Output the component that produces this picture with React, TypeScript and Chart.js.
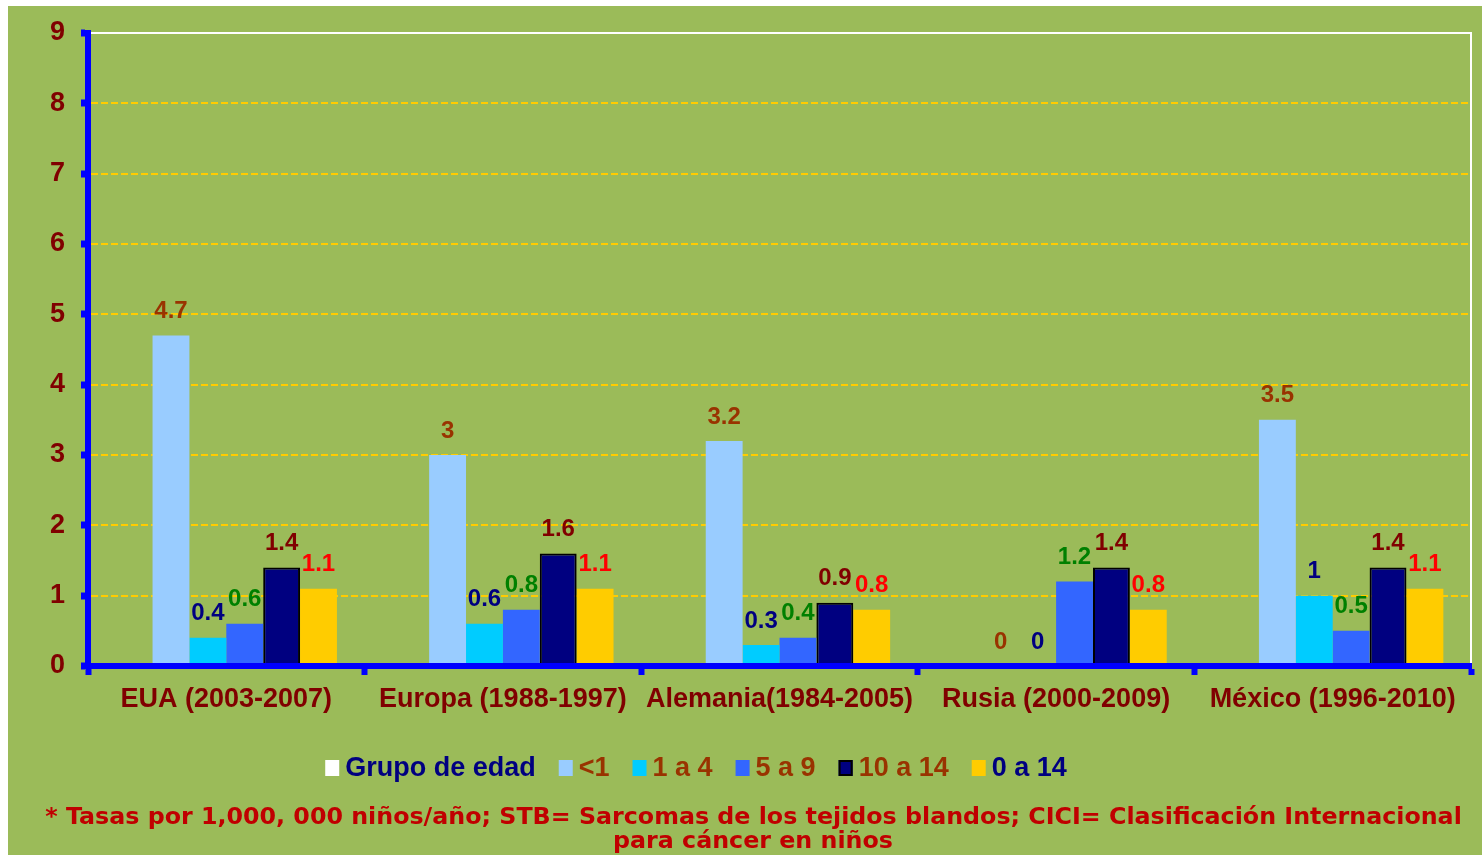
import React, { useEffect, useRef } from "react";
import { Chart, registerables } from "chart.js";

Chart.register(...registerables);

const categories = [
  "EUA (2003-2007)",
  "Europa (1988-1997)",
  "Alemania(1984-2005)",
  "Rusia (2000-2009)",
  "México (1996-2010)",
];
const seriesNames = ["Grupo de edad", "<1", "1 a 4", "5 a 9", "10 a 14", "0 a 14"];
const grupo: (number | null)[] = [null, null, null, null, null];
const menor1 = [4.7, 3, 3.2, 0, 3.5];
const de1a4 = [0.4, 0.6, 0.3, 0, 1];
const de5a9 = [0.6, 0.8, 0.4, 1.2, 0.5];
const de10a14 = [1.4, 1.6, 0.9, 1.4, 1.4];
const de0a14 = [1.1, 1.1, 0.8, 0.8, 1.1];
const yTicks = [0, 1, 2, 3, 4, 5, 6, 7, 8, 9];
const footnote1 =
  "* Tasas por 1,000, 000 niños/año; STB= Sarcomas de los tejidos blandos; CICI= Clasificación Internacional";
const footnote2 = "para cáncer en niños";

const barColors = ["#FFFFFF", "#99CCFF", "#00CCFF", "#3366FF", "#000080", "#FFCC00"];
const labelColors = ["#000080", "#993300", "#000080", "#008000", "#800000", "#FF0000"];
const legendTextColors = ["#000080", "#993300", "#993300", "#993300", "#993300", "#000080"];

const SANS = '"Liberation Sans", Arial, sans-serif';

export default function App() {
  const ref = useRef<HTMLCanvasElement | null>(null);

  useEffect(() => {
    const canvas = ref.current;
    if (!canvas) return;
    const allData = [grupo, menor1, de1a4, de5a9, de10a14, de0a14];

    const customPlugin = {
      id: "custom",
      beforeDraw(chart: any) {
        const ctx = chart.ctx;
        ctx.save();
        ctx.fillStyle = "#9BBB59";
        ctx.fillRect(0, 0, chart.width, chart.height);
        ctx.restore();
      },
      beforeDatasetsDraw(chart: any) {
        const ctx = chart.ctx;
        const a = chart.chartArea;
        ctx.save();
        ctx.strokeStyle = "#FFFFFF";
        ctx.lineWidth = 2;
        ctx.beginPath();
        ctx.moveTo(a.left, a.top);
        ctx.lineTo(a.right, a.top);
        ctx.lineTo(a.right, a.bottom);
        ctx.stroke();
        ctx.restore();
      },
      afterDatasetsDraw(chart: any) {
        const ctx = chart.ctx;
        ctx.save();
        ctx.font = `bold 24px ${SANS}`;
        ctx.textAlign = "center";
        ctx.textBaseline = "middle";
        for (let i = 1; i < allData.length; i++) {
          const meta = chart.getDatasetMeta(i);
          ctx.fillStyle = labelColors[i];
          meta.data.forEach((bar: any, j: number) => {
            const v = allData[i][j];
            if (v === null || v === undefined) return;
            ctx.fillText(String(v), bar.x, bar.y - 24);
          });
        }
        ctx.restore();
      },
      afterDraw(chart: any) {
        const ctx = chart.ctx;
        ctx.save();
        // legend
        ctx.font = `bold 27px ${SANS}`;
        ctx.textBaseline = "middle";
        ctx.textAlign = "left";
        const boxW = 14;
        const boxH = 16;
        const gapBox = 6;
        const gapItem = 23;
        const widths = seriesNames.map((n) => ctx.measureText(n).width);
        let total = 0;
        widths.forEach((w, i) => {
          total += boxW + gapBox + w + (i < widths.length - 1 ? gapItem : 0);
        });
        let x = 688 - total / 2;
        const ly = 762;
        seriesNames.forEach((n, i) => {
          ctx.fillStyle = barColors[i];
          ctx.fillRect(x, ly - boxH / 2, boxW, boxH);
          if (i === 4) {
            ctx.strokeStyle = "#000000";
            ctx.lineWidth = 2;
            ctx.strokeRect(x + 1, ly - boxH / 2 + 1, boxW - 2, boxH - 2);
          }
          ctx.fillStyle = legendTextColors[i];
          ctx.fillText(n, x + boxW + gapBox, ly + 1);
          x += boxW + gapBox + widths[i] + gapItem;
        });
        // footnote
        ctx.font = `bold 100px "DejaVu Sans", Verdana, sans-serif`;
        const w1 = ctx.measureText(footnote1).width;
        const fs = (100 * 1417) / w1;
        ctx.font = `bold ${fs}px "DejaVu Sans", Verdana, sans-serif`;
        ctx.fillStyle = "#C00000";
        ctx.textAlign = "center";
        ctx.fillText(footnote1, 745.5, 812);
        ctx.fillText(footnote2, 745, 836);
        ctx.restore();
      },
    };

    const chart = new Chart(canvas, {
      type: "bar",
      data: {
        labels: categories,
        datasets: seriesNames.map((name, i) => ({
          label: name,
          data: allData[i] as any,
          backgroundColor: barColors[i],
          borderColor: i === 4 ? "#000000" : barColors[i],
          borderWidth: i === 4 ? 2 : 0,
          categoryPercentage: 0.8,
          barPercentage: 1.0,
        })),
      },
      options: {
        responsive: false,
        animation: false,
        events: [],
        layout: { padding: { top: 27, right: 11, left: 0, bottom: 0 } },
        plugins: {
          legend: { display: false },
          tooltip: { enabled: false },
          title: { display: false },
        },
        scales: {
          x: {
            grid: {
              display: true,
              drawOnChartArea: false,
              drawTicks: true,
              tickLength: 9,
              tickWidth: 6,
              tickColor: "#0000FF",
              offset: true,
            },
            border: { display: true, color: "#0000FF", width: 6, z: 1 },
            ticks: {
              color: "#800000",
              font: { family: SANS, size: 27, weight: "bold" },
              padding: 8,
              maxRotation: 0,
              autoSkip: false,
            },
            afterFit: (s: any) => {
              s.height = 189;
              s.paddingLeft = 0;
              s.paddingRight = 0;
            },
          },
          y: {
            min: 0,
            max: 9,
            afterBuildTicks: (s: any) => {
              s.ticks = yTicks.map((v) => ({ value: v }));
            },
            ticks: {
              color: "#800000",
              font: { family: SANS, size: 27, weight: "bold" },
              padding: 16,
            },
            grid: {
              color: "#FFCC00",
              lineWidth: 2,
              tickLength: 7,
              tickWidth: 7,
              tickColor: "#0000FF",
              drawTicks: true,
            },
            border: { display: true, color: "#0000FF", width: 6, dash: [7, 3], z: 1 },
            afterFit: (s: any) => {
              s.width = 80;
              s.paddingTop = 0;
              s.paddingBottom = 0;
            },
          },
        },
      } as any,
      plugins: [customPlugin],
    });
    return () => chart.destroy();
  }, []);

  return (
    <div style={{ position: "absolute", left: 8, top: 6, width: 1474, height: 849 }}>
      <canvas ref={ref} width={1474} height={849} style={{ display: "block", width: 1474, height: 849 }} />
    </div>
  );
}
